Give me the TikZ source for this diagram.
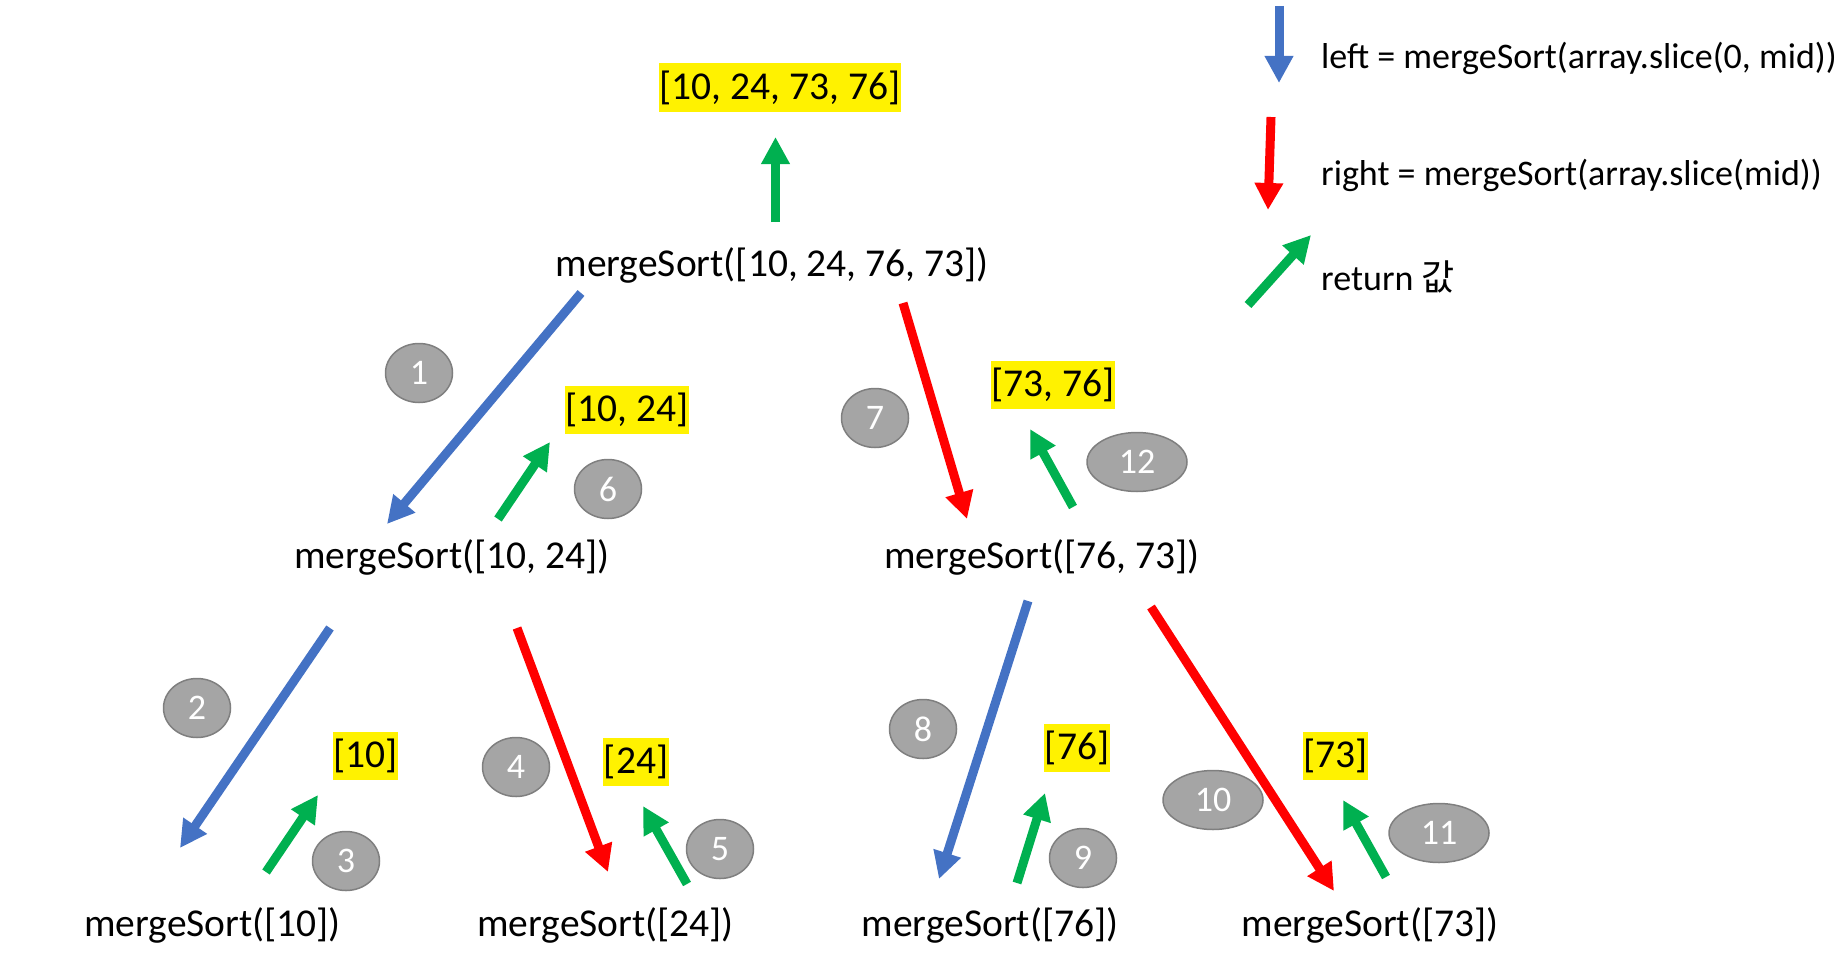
\documentclass[tikz,border=0pt]{standalone}
\usepackage{fontspec}
\setmainfont{Carlito}
\newfontfamily\kofont{Noto Sans CJK KR}
\usetikzlibrary{arrows.meta,shapes.geometric}
\definecolor{callBlue}{HTML}{4472C4}
\definecolor{callRed}{HTML}{FF0000}
\definecolor{returnGreen}{HTML}{00B050}
\definecolor{stepGray}{HTML}{A5A5A5}
\definecolor{stepEdge}{HTML}{7F7F7F}

\begin{document}
\begin{tikzpicture}
[x=1pt,y=-1pt,
  arrowDecorate/.style={-{Triangle[length=27pt,width=27pt]},line width=9pt},%
  callDecorate/.style={anchor=base,inner sep=0pt,font=\fontsize{39.5}{47}\selectfont},%
  resultDecorate/.style={fill=yellow,inner xsep=0.5pt,inner ysep=0pt,minimum height=48pt,font=\fontsize{39.5}{47}\selectfont},%
  stepDecorate/.style={shape=ellipse,fill=stepGray,draw=stepEdge,line width=1.5pt,inner sep=0pt,minimum width=67pt,minimum height=59pt,text=white,font=\fontsize{36}{43}\selectfont},%
  keyDecorate/.style={anchor=base west,inner sep=0pt,font=\fontsize{36}{43}\selectfont}]
\useasboundingbox (0,0) rectangle (1838,966);
%% calls of mergeSort
\foreach \nodename/\x/\y/\txt in {
  call0/772/276/{mergeSort([10, 24, 76, 73])},
  call1/452/568/{mergeSort([10, 24])}, call2/1042/568/{mergeSort([76, 73])},
  call3/212.5/936/{mergeSort([10])}, call4/605.5/936/{mergeSort([24])},
  call5/990/936/{mergeSort([76])}, call6/1370/936/{mergeSort([73])}}
{
  \node (\nodename) at (\x,\y) [callDecorate] {\txt};
}
%% returned arrays
\foreach \nodename/\x/\y/\txt in {
  res0/780/87.5/{[10, 24, 73, 76]},
  res1/627/410/{[10, 24]}, res2/1053/385/{[73, 76]},
  res3/365.5/755.5/{[10]}, res4/636/762/{[24]},
  res5/1077/748/{[76]}, res6/1335.5/756/{[73]}}
{
  \node (\nodename) at (\x,\y) [resultDecorate] {\txt};
}
%% order of the steps
\foreach \nodename/\x/\y in {
  1/419/373, 2/197/708, 3/346/861, 4/516/767, 5/720/849, 6/608/489,
  7/875/418, 8/923/729, 9/1083/858}
{
  \node (step\nodename) at (\x,\y) [stepDecorate] {\nodename};
}
\foreach \nodename/\x/\y in {10/1213/800, 11/1439/833, 12/1137/462}
{
  \node (step\nodename) at (\x,\y) [stepDecorate,minimum width=100pt] {\nodename};
}
%% arrow ends
\foreach \nodename/\x/\y in {
  l1s/581/293, l1e/387/524, l2s/330/628, l2e/180/848, l3s/1028/601, l3e/939/879,
  r1s/903/303, r1e/967/519, r2s/517/628, r2e/608/872, r3s/1151/607, r3e/1334/891,
  g0s/775.5/222, g0e/775.5/137, g1s/498/519, g1e/550/442, g2s/1073/507, g2e/1030/429,
  g3s/266/872, g3e/318/795, g4s/687/884, g4e/643/806, g5s/1017/883, g5e/1045/793,
  g6s/1386/877, g6e/1343/800,
  kls/1279/6, kle/1279/83, krs/1271/117, kre/1268/210, kgs/1248/305, kge/1311/235}
{
  \coordinate (\nodename) at (\x,\y);
}
%% arrows
\foreach \startnode/\endnode/\colour in {
  l1s/l1e/callBlue, l2s/l2e/callBlue, l3s/l3e/callBlue, kls/kle/callBlue,
  r1s/r1e/callRed, r2s/r2e/callRed, r3s/r3e/callRed, krs/kre/callRed,
  g0s/g0e/returnGreen, g1s/g1e/returnGreen, g2s/g2e/returnGreen,
  g3s/g3e/returnGreen, g4s/g4e/returnGreen, g5s/g5e/returnGreen,
  g6s/g6e/returnGreen, kgs/kge/returnGreen}
{
  \draw[arrowDecorate,draw=\colour,fill=\colour] (\startnode) -- (\endnode);
}
%% legend
\node (leftkey) at (1321,68) [keyDecorate] {left = mergeSort(array.slice(0, mid))};
\node (rightkey) at (1321,185) [keyDecorate] {right = mergeSort(array.slice(mid))};
\node (returnkey) at (1321,290) [keyDecorate] {return {\kofont 값}};
\end{tikzpicture}
\end{document}
